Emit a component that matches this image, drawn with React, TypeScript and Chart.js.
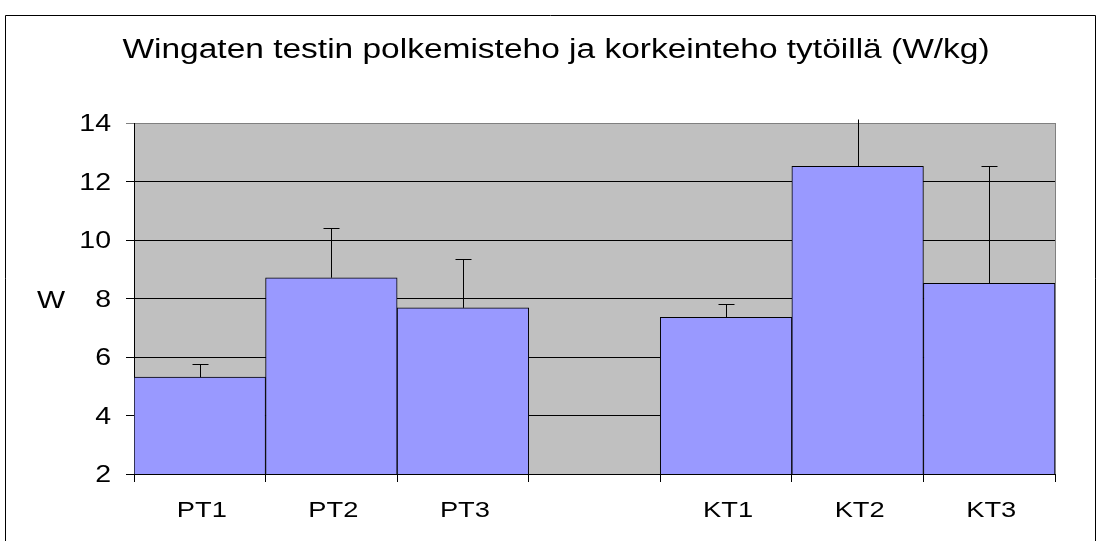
import React, { useEffect, useRef } from "react";
import { Chart, registerables } from "chart.js";

Chart.register(...registerables);

const categories = ["PT1", "PT2", "PT3", "", "KT1", "KT2", "KT3"];
const values = [5.31, 8.71, 7.68, null, 7.36, 12.52, 8.52];
const errorsUp = [0.44, 1.69, 1.68, null, 0.46, 1.61, 4.0];
const yTicks = [2, 4, 6, 8, 10, 12, 14];
const titleText = "Wingaten testin polkemisteho ja korkeinteho tytöillä (W/kg)";
const yAxisLabel = "W";

const FONT = "'Liberation Sans', Arial, sans-serif";
const STRETCH = 1.24;

function stretchedText(ctx: any, text: string, x: number, y: number, align: string, size: number) {
  ctx.save();
  ctx.font = `${size}px ${FONT}`;
  ctx.fillStyle = "#000";
  ctx.textBaseline = "alphabetic";
  ctx.textAlign = align;
  ctx.translate(x, y);
  ctx.scale(STRETCH, 1);
  ctx.fillText(text, 0, 0);
  ctx.restore();
}

const decorPlugin = {
  id: "decor",
  beforeDraw(chart: any) {
    const { ctx, chartArea: a } = chart;
    ctx.save();
    ctx.fillStyle = "#ffffff";
    ctx.fillRect(0, 0, chart.width, chart.height);
    ctx.fillStyle = "#C0C0C0";
    ctx.fillRect(a.left, a.top, a.right - a.left, a.bottom - a.top);
    ctx.restore();
  },
  afterDraw(chart: any) {
    const { ctx, chartArea: a } = chart;
    ctx.save();
    // right edge of plot area
    ctx.strokeStyle = "#808080";
    ctx.lineWidth = 1;
    ctx.beginPath();
    ctx.moveTo(Math.round(a.right) + 0.5, a.top);
    ctx.lineTo(Math.round(a.right) + 0.5, a.bottom);
    ctx.stroke();
    // outer border
    ctx.strokeStyle = "#000";
    ctx.beginPath();
    ctx.rect(5.5, 15.5, chart.width - 7, chart.height);
    ctx.stroke();
    ctx.restore();

    // title and axis label
    stretchedText(ctx, titleText, 556, 58, "center", 27);
    stretchedText(ctx, yAxisLabel, 51, 308, "center", 24);

    // y tick labels
    const ys = chart.scales.y;
    ys.ticks.forEach((t: any) => {
      const py = ys.getPixelForValue(t.value);
      stretchedText(ctx, String(t.value), 111, py + 8, "right", 23);
    });
    // x tick labels
    const xs = chart.scales.x;
    categories.forEach((c, i) => {
      if (!c) return;
      const px = xs.getPixelForValue(i);
      stretchedText(ctx, c, px + 2, 516.5, "center", 22);
    });
  },
};

const errorBarPlugin = {
  id: "errbars",
  afterDatasetsDraw(chart: any) {
    const { ctx, chartArea: a } = chart;
    const meta = chart.getDatasetMeta(0);
    const yScale = chart.scales.y;
    ctx.save();
    ctx.strokeStyle = "#000";
    ctx.lineWidth = 1;
    meta.data.forEach((bar: any, i: number) => {
      const v = values[i];
      const e = errorsUp[i];
      if (v == null || e == null) return;
      const x = Math.round(bar.x) + 0.5;
      const y0 = yScale.getPixelForValue(v);
      const y1 = Math.round(yScale.getPixelForValue(v + e)) + 0.5;
      ctx.beginPath();
      ctx.moveTo(x, y0);
      ctx.lineTo(x, y1);
      if (y1 >= a.top) {
        ctx.moveTo(x - 8, y1);
        ctx.lineTo(x + 8, y1);
      }
      ctx.stroke();
    });
    ctx.restore();
  },
};

export default function App() {
  const ref = useRef<HTMLCanvasElement | null>(null);
  useEffect(() => {
    if (!ref.current) return;
    const chart = new Chart(ref.current, {
      type: "bar",
      data: {
        labels: categories,
        datasets: [
          {
            data: values as any,
            backgroundColor: "#9999FF",
            borderColor: "#000000",
            borderWidth: 1,
            barPercentage: 1,
            categoryPercentage: 1,
          },
        ],
      },
      options: {
        animation: false,
        responsive: false,
        maintainAspectRatio: false,
        layout: { padding: { left: 0, top: 123, right: 42, bottom: 0 } },
        plugins: {
          legend: { display: false },
          tooltip: { enabled: false },
          title: { display: false },
        },
        scales: {
          x: {
            afterFit(scale: any) {
              scale.height = 67;
            },
            grid: {
              offset: true,
              drawOnChartArea: false,
              drawTicks: true,
              tickLength: 8,
              color: "#000",
            },
            border: { display: true, color: "#000", width: 1 },
            ticks: { display: false, autoSkip: false },
          },
          y: {
            min: 2,
            max: 14,
            afterFit(scale: any) {
              scale.width = 134;
            },
            afterBuildTicks(scale: any) {
              scale.ticks = yTicks.map((v) => ({ value: v }));
            },
            grid: {
              color: (c: any) => (c.tick && c.tick.value === 14 ? "#808080" : "#000"),
              tickLength: 8,
              drawTicks: true,
            },
            border: { display: true, color: "#000", width: 1 },
            ticks: { display: false },
          },
        },
      },
      plugins: [decorPlugin, errorBarPlugin],
    });
    return () => chart.destroy();
  }, []);
  return (
    <div style={{ position: "absolute", left: 0, top: 0, width: 1097, height: 541 }}>
      <canvas ref={ref} width={1097} height={541} style={{ width: 1097, height: 541 }} />
    </div>
  );
}
